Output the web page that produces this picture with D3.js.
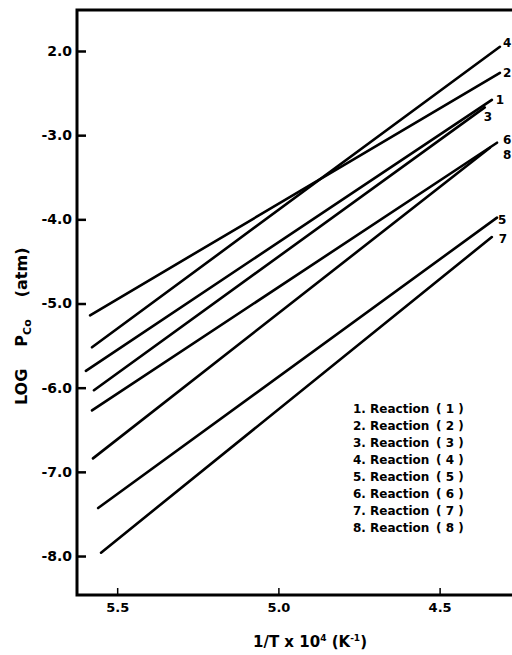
<!DOCTYPE html>
<html>
<head>
<meta charset="utf-8">
<script src="https://cdn.jsdelivr.net/npm/d3@7"></script>
<style>
  body { margin: 0; background: #fff; }
  svg { display: block; font-family: "DejaVu Sans", sans-serif; font-weight: bold; }
</style>
</head>
<body>
<div id="chart"></div>
<script>
// Reaction numbers and the two end points of each line (1/T x 10^4, log Pco)
const reactions = [1, 2, 3, 4, 5, 6, 7, 8];
const xStart = [5.597, 5.584, 5.572, 5.578, 5.559, 5.578, 5.55, 5.575];
const yStart = [-5.8, -5.14, -6.03, -5.52, -7.43, -6.27, -7.96, -6.84];
const xEnd = [4.338, 4.313, 4.36, 4.313, 4.322, 4.322, 4.338, 4.344];
const yEnd = [-2.58, -2.26, -2.67, -1.95, -3.98, -3.09, -4.21, -3.15];

// Tick values and labels as printed
const xTicks = [5.5, 5.0, 4.5];
const xTickLabels = ["5.5", "5.0", "4.5"];
const yTicks = [-2, -3, -4, -5, -6, -7, -8];
const yTickLabels = ["2.0", "-3.0", "-4.0", "-5.0", "-6.0", "-7.0", "-8.0"];
const legendLabels = reactions.map((r) => r + ". Reaction");

const W = 512, H = 655;
const margin = { left: 77, top: 10, right: 522, bottom: 595 };

const svg = d3.select("#chart").append("svg").attr("width", W).attr("height", H);

// Scales: x axis runs from high 1/T on the left to low on the right
const xScale = d3.scaleLinear().domain([5.6246, 4.2445]).range([margin.left, margin.right]);
const yScale = d3.scaleLinear().domain([-1.513, -8.463]).range([margin.top, margin.bottom]);

// Frame (left, top and bottom edges)
svg
  .append("path")
  .attr("d", `M${margin.right},${margin.top}H${margin.left}V${margin.bottom}H${margin.right}`)
  .attr("fill", "none")
  .attr("stroke", "#000")
  .attr("stroke-width", 3);

// Y axis with inward ticks
const yAxis = svg
  .append("g")
  .attr("transform", `translate(${margin.left},0)`)
  .call(
    d3
      .axisLeft(yScale)
      .tickValues(yTicks)
      .tickFormat((d, i) => yTickLabels[i])
      .tickSize(-9)
      .tickPadding(5)
  );
yAxis.select(".domain").remove();
yAxis.selectAll(".tick line").attr("stroke-width", 2.5);
yAxis
  .selectAll(".tick text")
  .attr("font-size", 14)
  .attr("font-family", "DejaVu Sans")
  .attr("font-weight", "bold")
  .attr("fill", "#000");

// X axis with inward ticks
const xAxis = svg
  .append("g")
  .attr("transform", `translate(0,${margin.bottom})`)
  .call(
    d3
      .axisBottom(xScale)
      .tickValues(xTicks)
      .tickFormat((d, i) => xTickLabels[i])
      .tickSize(-7)
      .tickPadding(8)
  );
xAxis.select(".domain").remove();
xAxis.selectAll(".tick line").attr("stroke-width", 1.5);
xAxis
  .selectAll(".tick text")
  .attr("font-size", 13)
  .attr("font-family", "DejaVu Sans")
  .attr("font-weight", "bold")
  .attr("fill", "#000");

// Reaction lines
svg
  .selectAll(".reaction-line")
  .data(reactions)
  .enter()
  .append("line")
  .attr("class", "reaction-line")
  .attr("x1", (d, i) => xScale(xStart[i]))
  .attr("y1", (d, i) => yScale(yStart[i]))
  .attr("x2", (d, i) => xScale(xEnd[i]))
  .attr("y2", (d, i) => yScale(yEnd[i]))
  .attr("stroke", "#000")
  .attr("stroke-width", 2.6)
  .attr("stroke-linecap", "round");

// Numbers at the right end of each line (pixel nudges per line)
const labelDx = [4, 3, -1, 3, 1, 6, 7, 13];
const labelDy = [4, 4, 14, 0, 6, 1, 6, 11];
svg
  .selectAll(".end-label")
  .data(reactions)
  .enter()
  .append("text")
  .attr("class", "end-label")
  .attr("x", (d, i) => xScale(xEnd[i]) + labelDx[i])
  .attr("y", (d, i) => yScale(yEnd[i]) + labelDy[i])
  .attr("font-size", 12)
  .text((d) => d);

// Legend
const legend = svg.append("g").attr("transform", "translate(353,413)");
legend
  .selectAll(".leg-name")
  .data(legendLabels)
  .enter()
  .append("text")
  .attr("y", (d, i) => i * 17)
  .attr("font-size", 12)
  .text((d) => d);
legend
  .selectAll(".leg-num")
  .data(reactions)
  .enter()
  .append("text")
  .attr("x", 83)
  .attr("y", (d, i) => i * 17)
  .attr("font-size", 12)
  .text((d) => "( " + d + " )");

// Axis titles
svg
  .append("text")
  .attr("x", 310)
  .attr("y", 647)
  .attr("text-anchor", "middle")
  .attr("font-size", 15)
  .html('1/T x 10<tspan dy="-6" font-size="9">4</tspan><tspan dy="6"> (K</tspan><tspan dy="-6" font-size="9">-1</tspan><tspan dy="6">)</tspan>');

const yTitle = svg
  .append("text")
  .attr("transform", "translate(27,405) rotate(-90)")
  .attr("font-size", 16);
yTitle.append("tspan").text("LOG");
yTitle.append("tspan").attr("dx", 22).text("P");
yTitle.append("tspan").attr("dy", 4).attr("font-size", 11).text("Co");
yTitle.append("tspan").attr("dx", 22).attr("dy", -4).text("(atm)");
</script>
</body>
</html>
